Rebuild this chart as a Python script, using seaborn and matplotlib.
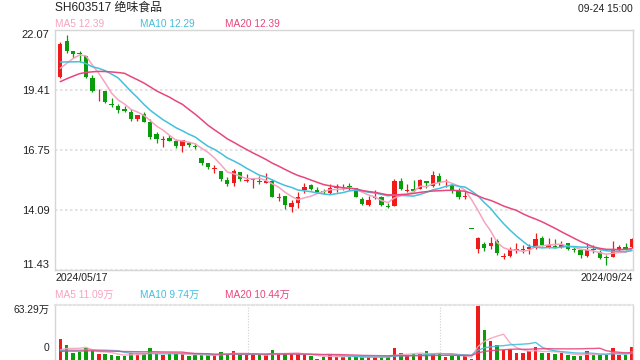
import matplotlib
matplotlib.use("Agg")
import numpy as np
import pandas as pd
import matplotlib.pyplot as plt
import seaborn as sns
from matplotlib.transforms import ScaledTranslation

# ------------------------------------------
# Data
# ------------------------------------------
title = "SH603517 绝味食品"
stamp = "09-24 15:00"
start_label = "2024/05/17"
end_label = "2024/09/24"

opens = [20.00, 21.58, 21.14, 21.04, 20.92, 19.94, 19.30, 19.35, 18.79, 18.70,
         18.58, 18.43, 18.12, 18.35, 17.99, 17.46, 17.19, 17.30, 17.16, 16.93,
         17.05, 16.90, 16.40, 16.19, 15.92, 15.83, 15.42, 15.27, 15.76, 15.38,
         15.41, 15.38, 15.30, 15.38, 14.64, 14.71, 14.24, 14.39, 14.98, 15.20,
         14.98, 14.92, 14.86, 15.07, 15.08, 15.15, 15.05, 14.57, 14.31, 14.63,
         14.65, 14.28, 14.28, 15.37, 14.93, 15.02, 15.03, 15.37, 15.17, 15.59,
         15.18, 15.19, 14.94, 14.65, 13.23, 12.34, 12.58, 12.49, 12.73, 12.02,
         12.05, 12.31, 12.31, 12.36, 12.46, 12.85, 12.46, 12.50, 12.43, 12.64,
         12.36, 12.31, 12.06, 12.36, 12.24, 11.99, 12.02, 12.36, 12.46, 12.43]
highs = [21.55, 21.85, 21.14, 21.15, 20.92, 20.06, 19.44, 19.35, 19.04, 18.79,
         18.70, 18.55, 18.30, 18.45, 18.11, 17.56, 17.37, 17.42, 17.25, 17.18,
         17.10, 17.05, 16.40, 16.19, 16.08, 15.83, 15.57, 15.89, 15.79, 15.67,
         15.45, 15.60, 15.75, 15.45, 14.83, 14.71, 14.53, 14.90, 15.30, 15.24,
         15.09, 15.01, 15.23, 15.23, 15.24, 15.30, 15.08, 14.65, 14.71, 14.97,
         14.71, 14.38, 15.45, 15.49, 15.24, 15.42, 15.46, 15.37, 15.82, 15.71,
         15.45, 15.19, 15.05, 14.94, 13.23, 12.90, 12.68, 12.90, 12.79, 12.20,
         12.43, 12.64, 12.53, 12.58, 13.05, 12.93, 12.83, 12.79, 12.71, 12.64,
         12.46, 12.36, 12.64, 12.53, 12.31, 12.09, 12.71, 12.53, 12.64, 12.83]
lows = [19.96, 21.04, 20.81, 20.67, 19.93, 19.34, 18.92, 18.85, 18.67, 18.41,
        18.43, 18.02, 18.02, 17.98, 17.24, 17.08, 16.90, 17.15, 16.84, 16.68,
        16.90, 16.78, 16.09, 15.89, 15.72, 15.39, 15.17, 15.17, 15.38, 15.33,
        15.05, 15.24, 15.27, 14.68, 14.49, 14.12, 14.00, 14.19, 14.86, 14.98,
        14.87, 14.80, 14.80, 14.90, 14.98, 14.97, 14.65, 14.31, 14.26, 14.56,
        14.28, 14.16, 14.26, 14.97, 14.87, 14.90, 15.00, 15.08, 15.12, 15.19,
        15.12, 14.85, 14.59, 14.56, 13.23, 12.20, 12.28, 12.34, 12.09, 11.93,
        12.02, 12.20, 12.20, 12.14, 12.34, 12.49, 12.42, 12.39, 12.39, 12.31,
        12.22, 11.94, 12.02, 12.20, 11.93, 11.65, 11.99, 12.24, 12.31, 12.42]
closes = [21.45, 21.15, 21.02, 21.01, 20.00, 19.38, 19.33, 18.89, 18.73, 18.52,
          18.48, 18.14, 18.30, 18.01, 17.34, 17.25, 17.25, 17.16, 16.93, 17.18,
          16.97, 16.87, 16.19, 16.01, 15.95, 15.48, 15.24, 15.82, 15.45, 15.42,
          15.44, 15.33, 15.38, 14.68, 14.68, 14.31, 14.41, 14.65, 15.11, 15.02,
          14.90, 14.87, 15.05, 15.15, 15.13, 15.09, 14.68, 14.35, 14.53, 14.68,
          14.31, 14.23, 15.37, 15.02, 14.97, 14.94, 15.42, 15.27, 15.64, 15.27,
          15.22, 14.97, 14.68, 14.70, 13.23, 12.83, 12.39, 12.64, 12.17, 12.05,
          12.34, 12.36, 12.36, 12.46, 12.80, 12.53, 12.56, 12.45, 12.53, 12.34,
          12.31, 12.11, 12.31, 12.30, 11.97, 11.94, 12.35, 12.45, 12.36, 12.80]
# volume in 万 shares
volumes = [25.1, 18.9, 10.5, 11.3, 15.5, 11.7, 8.8, 8.8, 7.5, 7.1,
           6.3, 10.5, 9.2, 9.2, 15.1, 9.2, 7.5, 9.2, 9.2, 9.2,
           6.3, 7.5, 7.5, 7.5, 7.5, 11.3, 9.2, 12.6, 7.5, 7.5,
           7.5, 7.5, 7.5, 13.8, 9.2, 9.2, 9.2, 9.2, 7.5, 6.3,
           3.8, 5.0, 9.2, 5.4, 5.4, 5.4, 5.4, 5.4, 5.4, 5.4,
           5.4, 5.4, 15.1, 10.1, 6.3, 9.2, 8.4, 12.6, 9.2, 9.2,
           5.4, 6.3, 6.3, 6.3, 2.9, 63.29, 35.6, 23.1, 18.9, 13.4,
           14.7, 10.1, 10.1, 11.7, 16.3, 10.1, 10.1, 8.8, 10.1, 7.5,
           6.8, 6.8, 12.0, 8.2, 8.2, 7.8, 15.5, 7.8, 7.8, 16.5]

# sessions just before the window, only used to warm up the moving averages
prior_closes = [18.6, 18.7, 18.8, 18.9, 18.85, 18.95, 19.0, 19.1, 19.05, 19.15,
                21.1, 21.0, 20.9, 20.85, 20.8, 20.05, 19.92, 20.27, 20.16]
prior_volumes = [10.2, 11.5, 10.8, 9.9, 11.6, 10.4, 11.2, 10.6, 11.3, 10.5,
                 12.4, 11.3, 12.0, 11.6, 11.7, 10.9, 10.2, 10.6, 10.2]

price_ticks = [11.43, 14.09, 16.75, 19.41, 22.07]
volume_ticks = [0, 63.29]
volume_tick_labels = ["0", "63.29万"]
price_legend = ["MA5 12.39", "MA10 12.29", "MA20 12.39"]
volume_legend = ["MA5 11.09万", "MA10 9.74万", "MA20 10.44万"]
ma_windows = [5, 10, 20]

# ------------------------------------------
# Prep
# ------------------------------------------
kline = pd.DataFrame({"open": opens, "high": highs, "low": lows,
                      "close": closes, "volume": volumes})
kline["idx"] = np.arange(len(kline))
kline["dir"] = np.where(kline["close"] > kline["open"], "up", "down")
kline["body_lo"] = kline[["open", "close"]].min(axis=1)
kline["body_h"] = (kline["close"] - kline["open"]).abs().clip(lower=0.04)

n_prior = len(prior_closes)
close_all = pd.Series(prior_closes + closes)
vol_all = pd.Series(prior_volumes + volumes)
for w in ma_windows:
    kline[f"ma{w}"] = close_all.rolling(w).mean().iloc[n_prior:].values
    kline[f"vma{w}"] = vol_all.rolling(w).mean().iloc[n_prior:].values

RED = "#ef1b1b"
GREEN = "#0a9c0a"
MA_COLORS = ["#f7a3bf", "#44bfdc", "#e8467c"]
GRID = "#e3e3e3"
FRAME = "#d6d6d6"
TEXT = "#222222"

sns.set_theme(style="white")
plt.rcParams["font.family"] = ["Liberation Sans", "Noto Sans CJK SC"]

W, H = 640, 360
fig = plt.figure(figsize=(6.4, 3.6), dpi=100)
ax = fig.add_axes([55 / W, 90 / H, 578 / W, 240 / H])
axv = fig.add_axes([55 / W, -2 / H, 578 / W, 57 / H])
xlim = (-0.82, 89.15)

# ------------------------------------------
# Candles + price MAs
# ------------------------------------------
colors = kline["dir"].map({"up": RED, "down": GREEN})
ax.vlines(kline["idx"], kline["low"], kline["high"], colors=colors, linewidth=0.9, zorder=3)
ax.bar(kline["idx"], kline["body_h"], bottom=kline["body_lo"], width=0.68,
       color=colors, linewidth=0, zorder=4)
for w, c in zip(ma_windows, MA_COLORS):
    sns.lineplot(data=kline, x="idx", y=f"ma{w}", ax=ax, color=c, linewidth=1.1, zorder=5)

ax.set_xlim(*xlim)
ax.set_ylim(price_ticks[0], price_ticks[-1])
ax.set_xticks([])
ax.set_yticks(price_ticks)
ax.set_yticklabels([f"{t:.2f}" for t in price_ticks])
ax.set_xlabel("")
ax.set_ylabel("")
ax.tick_params(axis="y", length=0, pad=4, labelsize=8, labelcolor=TEXT)
ax.grid(axis="y", color=GRID, linestyle=(0, (1.2, 1.2)), linewidth=1.5)
ax.set_axisbelow(True)
labels = ax.get_yticklabels()
labels[0].set_va("bottom")
labels[-1].set_va("top")
for s in ax.spines.values():
    s.set_color(FRAME)
    s.set_linewidth(1)

# ------------------------------------------
# Volume panel
# ------------------------------------------
sns.barplot(data=kline, x="idx", y="volume", hue="dir", palette={"up": RED, "down": GREEN},
            dodge=False, legend=False, width=0.55, saturation=1, linewidth=0, ax=axv)
for w, c in zip(ma_windows, MA_COLORS):
    sns.lineplot(x=kline["idx"], y=kline[f"vma{w}"], ax=axv, color=c, linewidth=1.0, alpha=0.9)

axv.set_xlim(*xlim)
axv.set_ylim(0, volume_ticks[-1])
axv.set_xticks([])
axv.set_yticks(volume_ticks)
axv.set_yticklabels(volume_tick_labels)
axv.set_xlabel("")
axv.set_ylabel("")
axv.tick_params(axis="y", length=0, pad=4, labelsize=7.4, labelcolor=TEXT)
vlabels = axv.get_yticklabels()
vlabels[-1].set_va("top")
vlabels[0].set_va("center")
vlabels[0].set_transform(vlabels[0].get_transform() + ScaledTranslation(0, 0.14, fig.dpi_scale_trans))
for frac in (1 / 3, 2 / 3):
    axv.plot([frac, frac], [0, 1], transform=axv.transAxes, color="#cfcfcf",
             linestyle=(0, (1, 1.5)), linewidth=0.8, zorder=0)
axv.spines["bottom"].set_visible(False)
axv.spines["top"].set_linestyle((0, (1, 1.2)))
axv.spines["top"].set_linewidth(1.5)
axv.spines["top"].set_color(GRID)
for side in ("left", "right"):
    axv.spines[side].set_color(FRAME)
    axv.spines[side].set_linewidth(1)

# ------------------------------------------
# Header / legends / dates
# ------------------------------------------
fig.text(55 / W, 1 - 8 / H, title, fontsize=8.6, color=TEXT, ha="left", va="center")
fig.text(633 / W, 1 - 9.5 / H, stamp, fontsize=7.4, color=TEXT, ha="right", va="center")
for txt, c, x in zip(price_legend, MA_COLORS, (55, 140, 225)):
    fig.text(x / W, 1 - 24 / H, txt, fontsize=7.3, color=c, ha="left", va="center")
for txt, c, x in zip(volume_legend, MA_COLORS, (55, 140, 225)):
    fig.text(x / W, 1 - 295 / H, txt, fontsize=7.3, color=c, ha="left", va="center")
fig.text(55 / W, 1 - 278 / H, start_label, fontsize=7.6, color=TEXT, ha="left", va="center")
fig.text(633 / W, 1 - 278 / H, end_label, fontsize=7.6, color=TEXT, ha="right", va="center")

fig.savefig("out.png", dpi=100)
